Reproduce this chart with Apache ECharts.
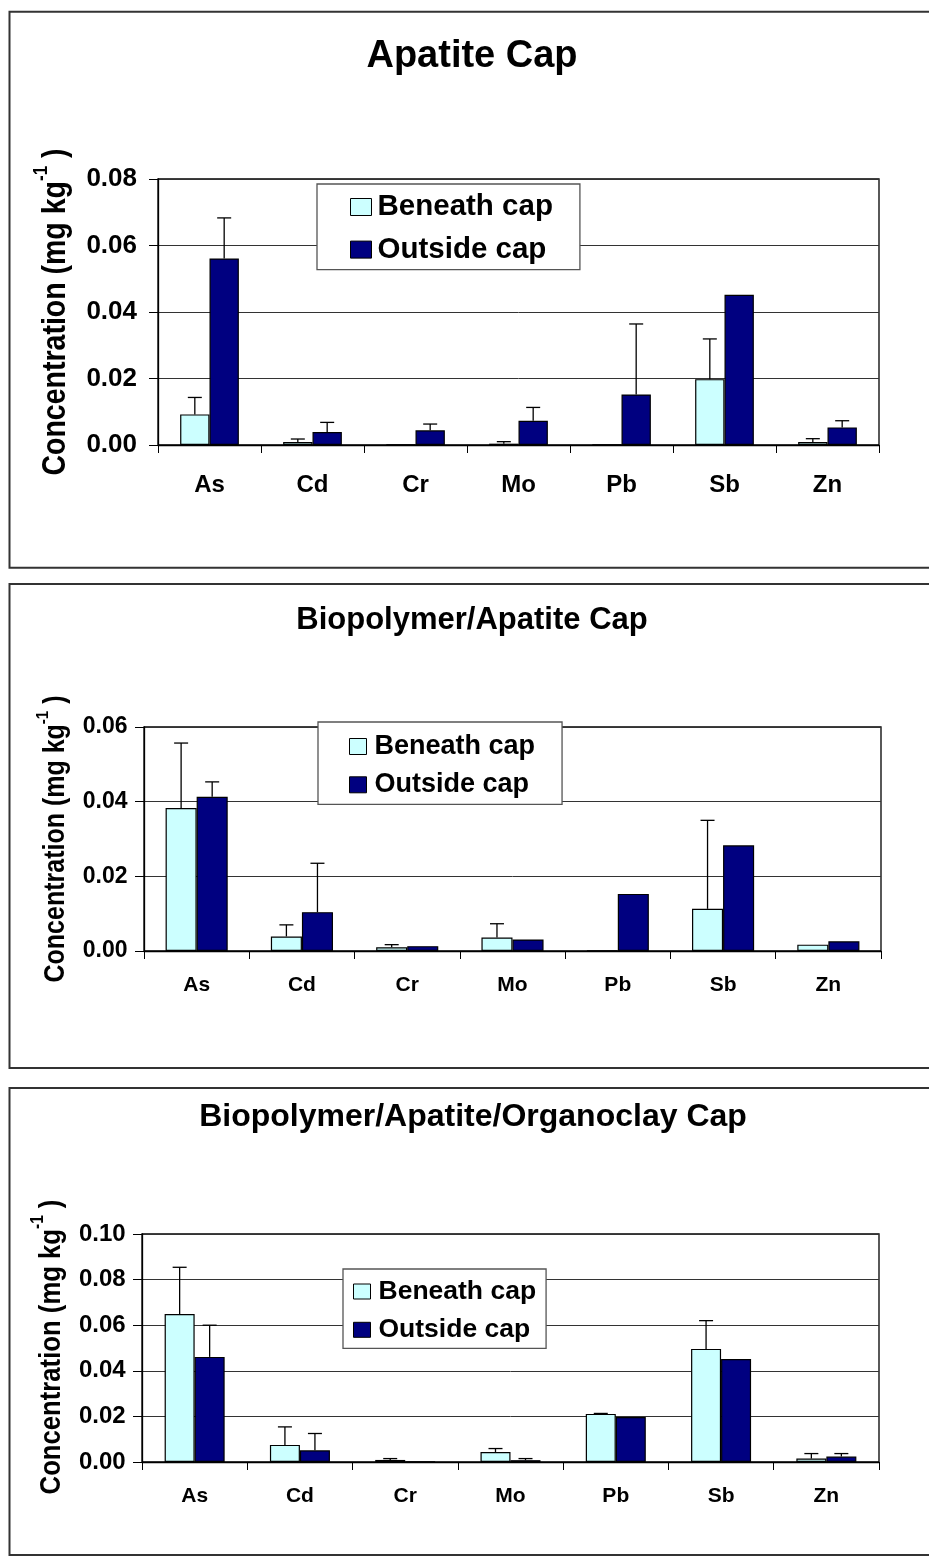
<!DOCTYPE html>
<html>
<head>
<meta charset="utf-8">
<script src="https://cdn.jsdelivr.net/npm/echarts@6/dist/echarts.min.js"></script>
<style>
  html, body { margin: 0; padding: 0; background: #fff; }
  #chart { width: 929px; height: 1562px; }
</style>
</head>
<body>
<div id="chart"></div>
<script>
// ---------- DATA ----------
const categories = ['As', 'Cd', 'Cr', 'Mo', 'Pb', 'Sb', 'Zn'];
const seriesNames = ['Beneath cap', 'Outside cap'];
const panelTitles = ['Apatite Cap', 'Biopolymer/Apatite Cap', 'Biopolymer/Apatite/Organoclay Cap'];
const yAxisMax = [0.08, 0.06, 0.10];
const yAxisStep = [0.02, 0.02, 0.02];

// Apatite Cap
const apatiteBeneath     = [0.0092, 0.0009, 0.0001, 0.0004, 0.0001, 0.0198, 0.0009];
const apatiteBeneathErr  = [0.0051, 0.0009, 0.0000, 0.0006, 0.0000, 0.0121, 0.0010];
const apatiteOutside     = [0.0561, 0.0039, 0.0044, 0.0073, 0.0152, 0.0452, 0.0053];
const apatiteOutsideErr  = [0.0122, 0.0029, 0.0019, 0.0040, 0.0212, 0.0000, 0.0020];

// Biopolymer/Apatite Cap
const bioApBeneath       = [0.0383, 0.0039, 0.0010, 0.0036, 0.0001, 0.0113, 0.0017];
const bioApBeneathErr    = [0.0174, 0.0031, 0.0007, 0.0037, 0.0000, 0.0237, 0.0000];
const bioApOutside       = [0.0413, 0.0104, 0.0013, 0.0031, 0.0153, 0.0283, 0.0026];
const bioApOutsideErr    = [0.0040, 0.0131, 0.0000, 0.0000, 0.0000, 0.0000, 0.0000];

// Biopolymer/Apatite/Organoclay Cap
const bioApOrgBeneath    = [0.0649, 0.0075, 0.0009, 0.0044, 0.0211, 0.0496, 0.0015];
const bioApOrgBeneathErr = [0.0205, 0.0079, 0.0006, 0.0015, 0.0002, 0.0124, 0.0022];
const bioApOrgOutside    = [0.0461, 0.0051, 0.0001, 0.0008, 0.0197, 0.0452, 0.0024];
const bioApOrgOutsideErr = [0.0139, 0.0074, 0.0000, 0.0007, 0.0000, 0.0000, 0.0013];

// ---------- LAYOUT / STYLE ----------
const FONT = "'Liberation Sans', Arial, Helvetica, sans-serif";
const COLORS = ['#CCFFFF', '#000080'];

const panelData = [
  [apatiteBeneath, apatiteBeneathErr, apatiteOutside, apatiteOutsideErr],
  [bioApBeneath, bioApBeneathErr, bioApOutside, bioApOutsideErr],
  [bioApOrgBeneath, bioApOrgBeneathErr, bioApOrgOutside, bioApOrgOutsideErr]
];

const layout = [
  { box: [9.5, 11.7, 567.7], grid: { left: 158, top: 179, width: 721, height: 266 }, gap: 0.43,
    titleXY: [472, 57], titleSize: 38, yTitleXY: [56, 312], yTitleSize: 28.5,
    tickSize: 26, tickMargin: 21, catSize: 24, catMargin: 28,
    legend: { left: 317, top: 184, size: 29.5, lh: 29, gap: 12.6, iw: 21, ih: 17, tp: 1, pad: [8, 27, 5, 33] } },
  { box: [9.5, 584, 1068], grid: { left: 144, top: 727, width: 737, height: 224 }, gap: 0.41,
    titleXY: [472, 620], titleSize: 31, yTitleXY: [56, 839], yTitleSize: 25,
    tickSize: 23, tickMargin: 16.5, catSize: 21, catMargin: 23.5,
    legend: { left: 318, top: 722, size: 27, lh: 27, gap: 11.3, iw: 17, ih: 16, tp: 3, pad: [11, 27, 6, 31] } },
  { box: [9.5, 1088, 1555], grid: { left: 142, top: 1234, width: 737, height: 228 }, gap: 0.43,
    titleXY: [473, 1117], titleSize: 32, yTitleXY: [52, 1347], yTitleSize: 25.7,
    tickSize: 24, tickMargin: 16.3, catSize: 21, catMargin: 23.6,
    legend: { left: 343, top: 1269, size: 26.5, lh: 27, gap: 11.3, iw: 17, ih: 15, tp: 3, pad: [9, 10, 5, 10] } }
];

function errorSeries(gi, vals, errs, side, gapFrac) {
  return {
    type: 'custom',
    xAxisIndex: gi, yAxisIndex: gi,
    z: 10, silent: true,
    data: vals.map((v, i) => [i, v, v + errs[i]]),
    encode: { x: 0, y: [1, 2] },
    renderItem: function (params, api) {
      const i = api.value(0), v = api.value(1), top = api.value(2);
      if (!(top > v + 1e-9)) return;
      const band = api.size([1, 0])[0];
      const bw = band * (1 - gapFrac) / 2;
      const p0 = api.coord([i, v]);
      const p1 = api.coord([i, top]);
      const x = p0[0] + side * bw / 2;
      const st = { stroke: '#000', lineWidth: 1.3 };
      return {
        type: 'group',
        children: [
          { type: 'line', shape: { x1: x, y1: p0[1], x2: x, y2: p1[1] }, style: st },
          { type: 'line', shape: { x1: x - 7, y1: p1[1], x2: x + 7, y2: p1[1] }, style: st }
        ]
      };
    }
  };
}

const grids = [], xAxes = [], yAxes = [], series = [], legends = [], graphics = [];

layout.forEach((L, gi) => {
  const [ben, benErr, out, outErr] = panelData[gi];

  graphics.push({
    type: 'rect', z: 0, silent: true,
    shape: { x: L.box[0], y: L.box[1], width: 960, height: L.box[2] - L.box[1] },
    style: { fill: 'none', stroke: '#333', lineWidth: 2 }
  });
  graphics.push({
    type: 'text', z: 5, x: L.titleXY[0], y: L.titleXY[1],
    style: {
      text: panelTitles[gi], textAlign: 'center', textVerticalAlign: 'middle',
      fontSize: L.titleSize, fontWeight: 'bold', fontFamily: FONT, fill: '#000'
    }
  });
  graphics.push({
    type: 'text', z: 5, x: L.yTitleXY[0], y: L.yTitleXY[1], rotation: Math.PI / 2, scaleY: 1.15,
    style: {
      text: 'Concentration (mg kg{sup|-1}{b| )}',
      textAlign: 'center', textVerticalAlign: 'middle',
      fontSize: L.yTitleSize, fontWeight: 'bold', fontFamily: FONT, fill: '#000',
      lineHeight: L.yTitleSize * 1.5,
      rich: {
        sup: { fontSize: L.yTitleSize * 0.6, fontWeight: 'bold', fontFamily: FONT, fill: '#000', verticalAlign: 'top', lineHeight: L.yTitleSize * 0.7 },
        b: { fontSize: L.yTitleSize, fontWeight: 'bold', fontFamily: FONT, fill: '#000', lineHeight: L.yTitleSize * 1.5 }
      }
    }
  });

  grids.push({
    left: L.grid.left, top: L.grid.top, width: L.grid.width, height: L.grid.height,
    show: true, borderColor: '#000', borderWidth: 1.3, backgroundColor: '#fff', containLabel: false
  });

  xAxes.push({
    gridIndex: gi, type: 'category', data: categories,
    axisLine: { lineStyle: { color: '#000', width: 1.3 } },
    axisTick: { show: true, length: 8, lineStyle: { color: '#000', width: 1 } },
    axisLabel: { fontSize: L.catSize, fontWeight: 'bold', fontFamily: FONT, color: '#000', margin: L.catMargin },
    splitLine: { show: false }
  });

  yAxes.push({
    gridIndex: gi, type: 'value', min: 0, max: yAxisMax[gi], interval: yAxisStep[gi],
    axisLine: { show: true, lineStyle: { color: '#000', width: 1.3 } },
    axisTick: { show: true, length: 9, lineStyle: { color: '#000', width: 1 } },
    axisLabel: {
      fontSize: L.tickSize, fontWeight: 'bold', fontFamily: FONT, color: '#000', margin: L.tickMargin,
      formatter: v => v.toFixed(2)
    },
    splitLine: { show: true, lineStyle: { color: '#333', width: 1 } }
  });

  const gapStr = Math.round(L.gap * 100) + '%';
  series.push({
    name: seriesNames[0], type: 'bar', xAxisIndex: gi, yAxisIndex: gi, data: ben,
    barGap: '0%', barCategoryGap: gapStr, z: 3,
    itemStyle: { color: COLORS[0], borderColor: '#000', borderWidth: 1.2 },
    emphasis: { disabled: true }
  });
  series.push({
    name: seriesNames[1], type: 'bar', xAxisIndex: gi, yAxisIndex: gi, data: out,
    barGap: '0%', barCategoryGap: gapStr, z: 3,
    itemStyle: { color: COLORS[1], borderColor: '#000', borderWidth: 1.2 },
    emphasis: { disabled: true }
  });
  series.push(errorSeries(gi, ben, benErr, -1, L.gap));
  series.push(errorSeries(gi, out, outErr, 1, L.gap));

  const lg = L.legend;
  legends.push({
    orient: 'vertical', left: lg.left, top: lg.top,
    data: seriesNames, icon: 'rect', selectedMode: false,
    itemWidth: lg.iw, itemHeight: lg.ih, itemGap: lg.gap, padding: lg.pad,
    backgroundColor: '#fff', borderColor: '#555', borderWidth: 1.3, z: 20,
    itemStyle: { borderColor: '#000', borderWidth: 1 },
    textStyle: { fontSize: lg.size, lineHeight: lg.lh, fontWeight: 'bold', fontFamily: FONT, color: '#000', padding: [0, 0, 0, lg.tp] }
  });
});

const chart = echarts.init(document.getElementById('chart'), null, { renderer: 'canvas', width: 929, height: 1562 });
chart.setOption({
  backgroundColor: '#fff',
  animation: false,
  textStyle: { fontFamily: FONT },
  grid: grids,
  xAxis: xAxes,
  yAxis: yAxes,
  legend: legends,
  series: series,
  graphic: graphics
});
</script>
</body>
</html>
